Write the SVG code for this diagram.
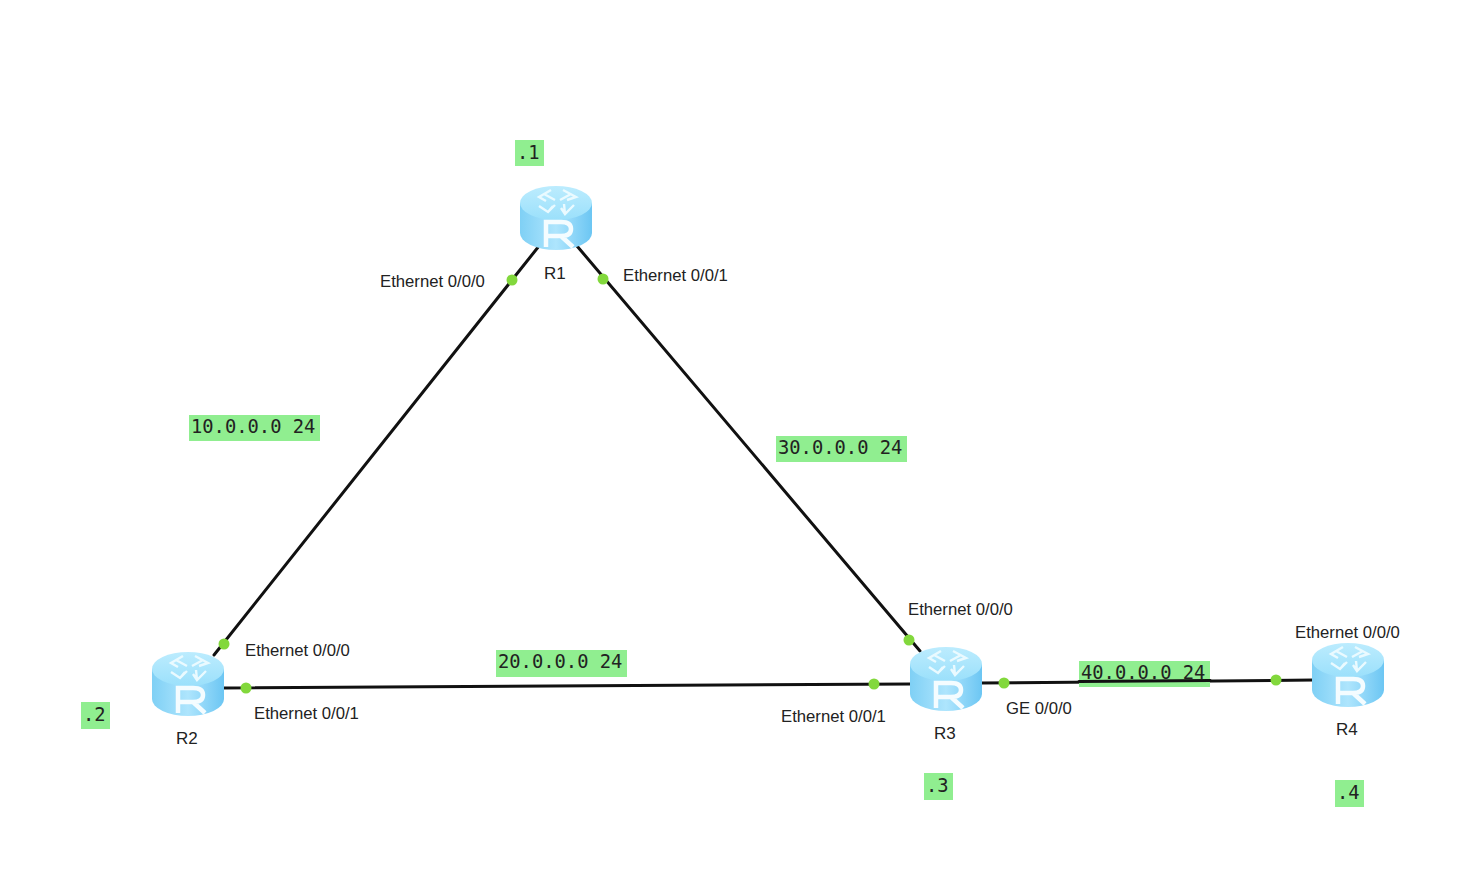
<svg xmlns="http://www.w3.org/2000/svg" width="1477" height="877" viewBox="0 0 1477 877">
<style>
.bg{fill:#fff}
.lnk{stroke:#111;stroke-width:3;fill:none;stroke-linecap:round}
.dot{fill:#82d83c}
.lbl{font-family:"Liberation Sans",Arial,sans-serif;font-size:16.700px;fill:#222}
.name{font-family:"Liberation Sans",Arial,sans-serif;font-size:17px;fill:#222}
.tag rect{fill:#90ee90}
.tag text{font-family:"DejaVu Sans Mono","Liberation Mono",monospace;font-size:18.800px;fill:#222}
</style>
<defs>
<linearGradient id="side" x1="0" x2="1" y1="0" y2="0">
<stop offset="0" stop-color="#7fd0f5"/><stop offset="0.5" stop-color="#aee5fd"/><stop offset="1" stop-color="#6cc6f3"/>
</linearGradient>
<linearGradient id="top" x1="0" x2="0" y1="0" y2="1">
<stop offset="0" stop-color="#bcecfe"/><stop offset="1" stop-color="#9be0fb"/>
</linearGradient>
<symbol id="router" overflow="visible">
<path d="M-36,-15V15A36,17 0 0 0 36,15V-15Z" fill="url(#side)"/>
<ellipse cx="0" cy="-15" rx="36" ry="17" fill="url(#top)"/>
<g fill="none" stroke="#eafaff" stroke-width="2.400">
<path d="M-5,-28L-17,-21L-10,-17M-12,-24L-1,-18"/>
<path d="M7,-28L20,-21L11,-18M15,-24L4,-18"/>
<path d="M-17,-12L-8,-6L-3,-12M-8,-6L-1,-13"/>
<path d="M18,-13L9,-4L5,-10M9,-4L8,-14"/>
</g>
<path d="M-10,29V4H5Q15,4 15,11Q15,18 5,18H-10M5,18L17,29" fill="none" stroke="#f4fcff" stroke-width="4.500"/>
</symbol>
</defs>
<rect class="bg" width="1477" height="877"/>
<g id="connectors">
<line class="lnk" x1="539" y1="246" x2="214" y2="655"/>
<line class="lnk" x1="577" y1="246" x2="920" y2="651"/>
<line class="lnk" x1="222" y1="688" x2="912" y2="684"/>
<line class="lnk" x1="980" y1="683" x2="1314" y2="680"/>
</g>
<g id="R1"><use href="#router" x="556" y="218"/><text class="name" x="544" y="279">R1</text></g>
<g id="R2"><use href="#router" x="188" y="684"/><text class="name" x="176" y="744">R2</text></g>
<g id="R3"><use href="#router" x="946" y="679"/><text class="name" x="934" y="739">R3</text></g>
<g id="R4"><use href="#router" x="1348" y="675"/><text class="name" x="1336" y="735">R4</text></g>
<g id="ports">
<circle class="dot" cx="512" cy="280" r="5.500"/><circle class="dot" cx="603" cy="279" r="5.500"/>
<circle class="dot" cx="224" cy="644" r="5.500"/><circle class="dot" cx="246" cy="688" r="5.500"/>
<circle class="dot" cx="909" cy="640" r="5.500"/><circle class="dot" cx="874" cy="684" r="5.500"/>
<circle class="dot" cx="1004" cy="683" r="5.500"/><circle class="dot" cx="1276" cy="680" r="5.500"/>
<text class="lbl" x="380" y="287">Ethernet 0/0/0</text>
<text class="lbl" x="623" y="281">Ethernet 0/0/1</text>
<text class="lbl" x="245" y="656">Ethernet 0/0/0</text>
<text class="lbl" x="254" y="719">Ethernet 0/0/1</text>
<text class="lbl" x="908" y="615">Ethernet 0/0/0</text>
<text class="lbl" x="781" y="722">Ethernet 0/0/1</text>
<text class="lbl" x="1006" y="714">GE 0/0/0</text>
<text class="lbl" x="1295" y="638">Ethernet 0/0/0</text>
</g>
<g id="tags">
<g class="tag"><rect x="515" y="140" width="29" height="26"/><text x="517" y="159">.1</text></g>
<g class="tag"><rect x="81" y="702" width="29" height="27"/><text x="83" y="721">.2</text></g>
<g class="tag"><rect x="924" y="773" width="29" height="27"/><text x="926" y="792">.3</text></g>
<g class="tag"><rect x="1335" y="780" width="29" height="27"/><text x="1337" y="799">.4</text></g>
<g class="tag"><rect x="189" y="415" width="131" height="26"/><text x="191" y="433">10.0.0.0 24</text></g>
<g class="tag"><rect x="776" y="436" width="131" height="26"/><text x="778" y="454">30.0.0.0 24</text></g>
<g class="tag"><rect x="496" y="650" width="131" height="27"/><text x="498" y="668">20.0.0.0 24</text></g>
<g class="tag"><rect x="1079" y="661" width="131" height="26"/><text x="1081" y="679">40.0.0.0 24</text></g>
</g>
<line class="lnk" x1="1079" y1="681.500" x2="1210" y2="680.500" stroke-width="2"/>
</svg>
